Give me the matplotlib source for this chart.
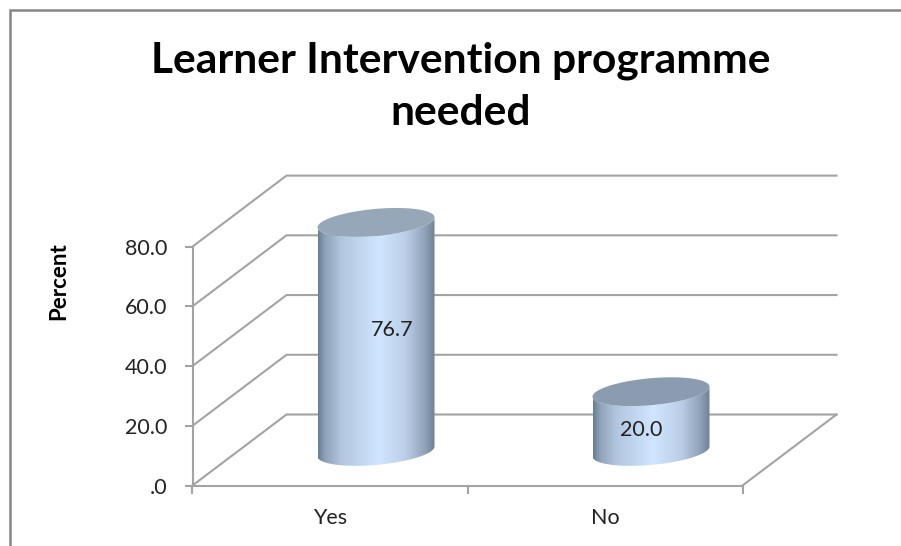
import numpy as np
import matplotlib
matplotlib.use("Agg")
import matplotlib.pyplot as plt
from matplotlib.colors import LinearSegmentedColormap
from matplotlib.lines import Line2D
from matplotlib.patches import Polygon

categories = ["Yes", "No"]
percent = [76.7, 20.0]
value_labels = ["76.7", "20.0"]
y_ticks = [0, 20, 40, 60, 80]
y_tick_labels = [".0", "20.0", "40.0", "60.0", "80.0"]
title = "Learner Intervention programme\nneeded"
y_title = "Percent"

W, H = 901, 546
plt.rcParams["font.family"] = ["Lato", "DejaVu Sans"]
fig = plt.figure(figsize=(W / 100, H / 100), dpi=100, facecolor="white")

L, R, T, B = 192.5, 742.5, 246.6, 485.5
ax = fig.add_axes([L / W, 1 - B / H, (R - L) / W, (B - T) / H])
ax.set_xlim(-0.5, 1.5)
ax.set_ylim(0, 80)
ax.set_facecolor("none")

px_x = 2.0 / (R - L)      # data units per px
px_y = 80.0 / (B - T)
dep_x = 94 * px_x         # depth of the 3D box
dep_y = 71 * px_y
GRID = "#a3a3a3"

x0, x1 = ax.get_xlim()
for v in y_ticks:
    ax.plot([x0, x0 + dep_x, x1 + dep_x], [v, v + dep_y, v + dep_y], color=GRID,
            lw=1.5, clip_on=False, zorder=1, solid_joinstyle="miter")
ax.plot([x1, x1 + dep_x], [0, dep_y], color=GRID, lw=1.5, clip_on=False, zorder=1)

for s in ("top", "right"):
    ax.spines[s].set_visible(False)
for s in ("left", "bottom"):
    ax.spines[s].set_color(GRID)
    ax.spines[s].set_linewidth(1.5)
ax.set_yticks(y_ticks)
ax.set_yticklabels(y_tick_labels, fontsize=15.5, color="#222222")
ax.set_xticks([-0.5, 0.5, 1.5])
ax.set_xticklabels([])
ax.tick_params(axis="both", color=GRID, width=1.5, length=6)
ax.tick_params(axis="y", pad=12)

cmap = LinearSegmentedColormap.from_list(
    "cyl",
    [(0.0, "#6a7e92"), (0.06, "#8ea2b8"), (0.20, "#b2c6df"), (0.52, "#d0e5ff"),
     (0.75, "#bccfe8"), (0.92, "#8fa1b6"), (1.0, "#6f8093")],
)
grad = np.linspace(0, 1, 256)[None, :]

HALF_W = 58.5
ELL_B = 13.5
ELL_S = 5.0
t = np.linspace(0, 2 * np.pi, 181)
top_colors = ["#97a7ba", "#8b9bb0"]


def cylinder(i, val):
    cx = i + 0.5 * dep_x - 1 * px_x
    base = 0.48 * dep_y
    a = HALF_W * px_x
    th = np.linspace(0, np.pi, 91)
    low_x = cx + a * np.cos(th)
    low_y = base + px_y * (ELL_S * np.cos(th) - ELL_B * np.sin(th))
    up_x = low_x[::-1]
    up_y = base + val + px_y * (ELL_S * np.cos(th[::-1]) - ELL_B * np.sin(th[::-1]))
    body = Polygon(np.c_[np.r_[low_x, up_x], np.r_[low_y, up_y]],
                   closed=True, transform=ax.transData, fc="none", ec="none")
    body.set_clip_on(False)
    ax.add_patch(body)
    im = ax.imshow(grad, extent=[cx - a, cx + a, base - 20, base + val + 10],
                   aspect="auto", cmap=cmap, zorder=3, interpolation="bilinear")
    im.set_clip_box(fig.bbox)
    im.set_clip_path(body)
    ell = Polygon(np.c_[cx + a * np.cos(t),
                        base + val + px_y * (ELL_S * np.cos(t) + ELL_B * np.sin(t))],
                  closed=True, fc=top_colors[i], ec="none", zorder=4, clip_on=False)
    ax.add_patch(ell)
    return cx


label_offsets = [(16, 7), (-10, -8)]
for i, val in enumerate(percent):
    cx = cylinder(i, val)
    ax.annotate(value_labels[i], (cx, 0.48 * dep_y + val / 2), xytext=label_offsets[i],
                textcoords="offset pixels", ha="center", va="center",
                fontsize=15.5, color="#222222", zorder=6, annotation_clip=False)
ax.set_xlim(x0, x1)
ax.set_ylim(0, 80)

for i, c in enumerate(categories):
    ax.annotate(c, (i, 0), xytext=(0, -33), textcoords="offset pixels",
                ha="center", va="center", fontsize=15.5, color="#222222",
                annotation_clip=False)

fig.text(59 / W, 1 - 281 / H, y_title, rotation=90, ha="center", va="center",
         fontsize=16, fontweight="bold", color="black")
fig.text(461 / W, 1 - 87 / H, title, ha="center", va="center", fontsize=30.6,
         fontweight="bold", color="black", linespacing=1.45)

fig.add_artist(Line2D([9.5 / W, 9.5 / W, 1], [0, 1 - 9.5 / H, 1 - 9.5 / H],
                      transform=fig.transFigure, color="#868686", lw=1.8,
                      solid_joinstyle="miter"))
fig.savefig("out.png", dpi=100)
